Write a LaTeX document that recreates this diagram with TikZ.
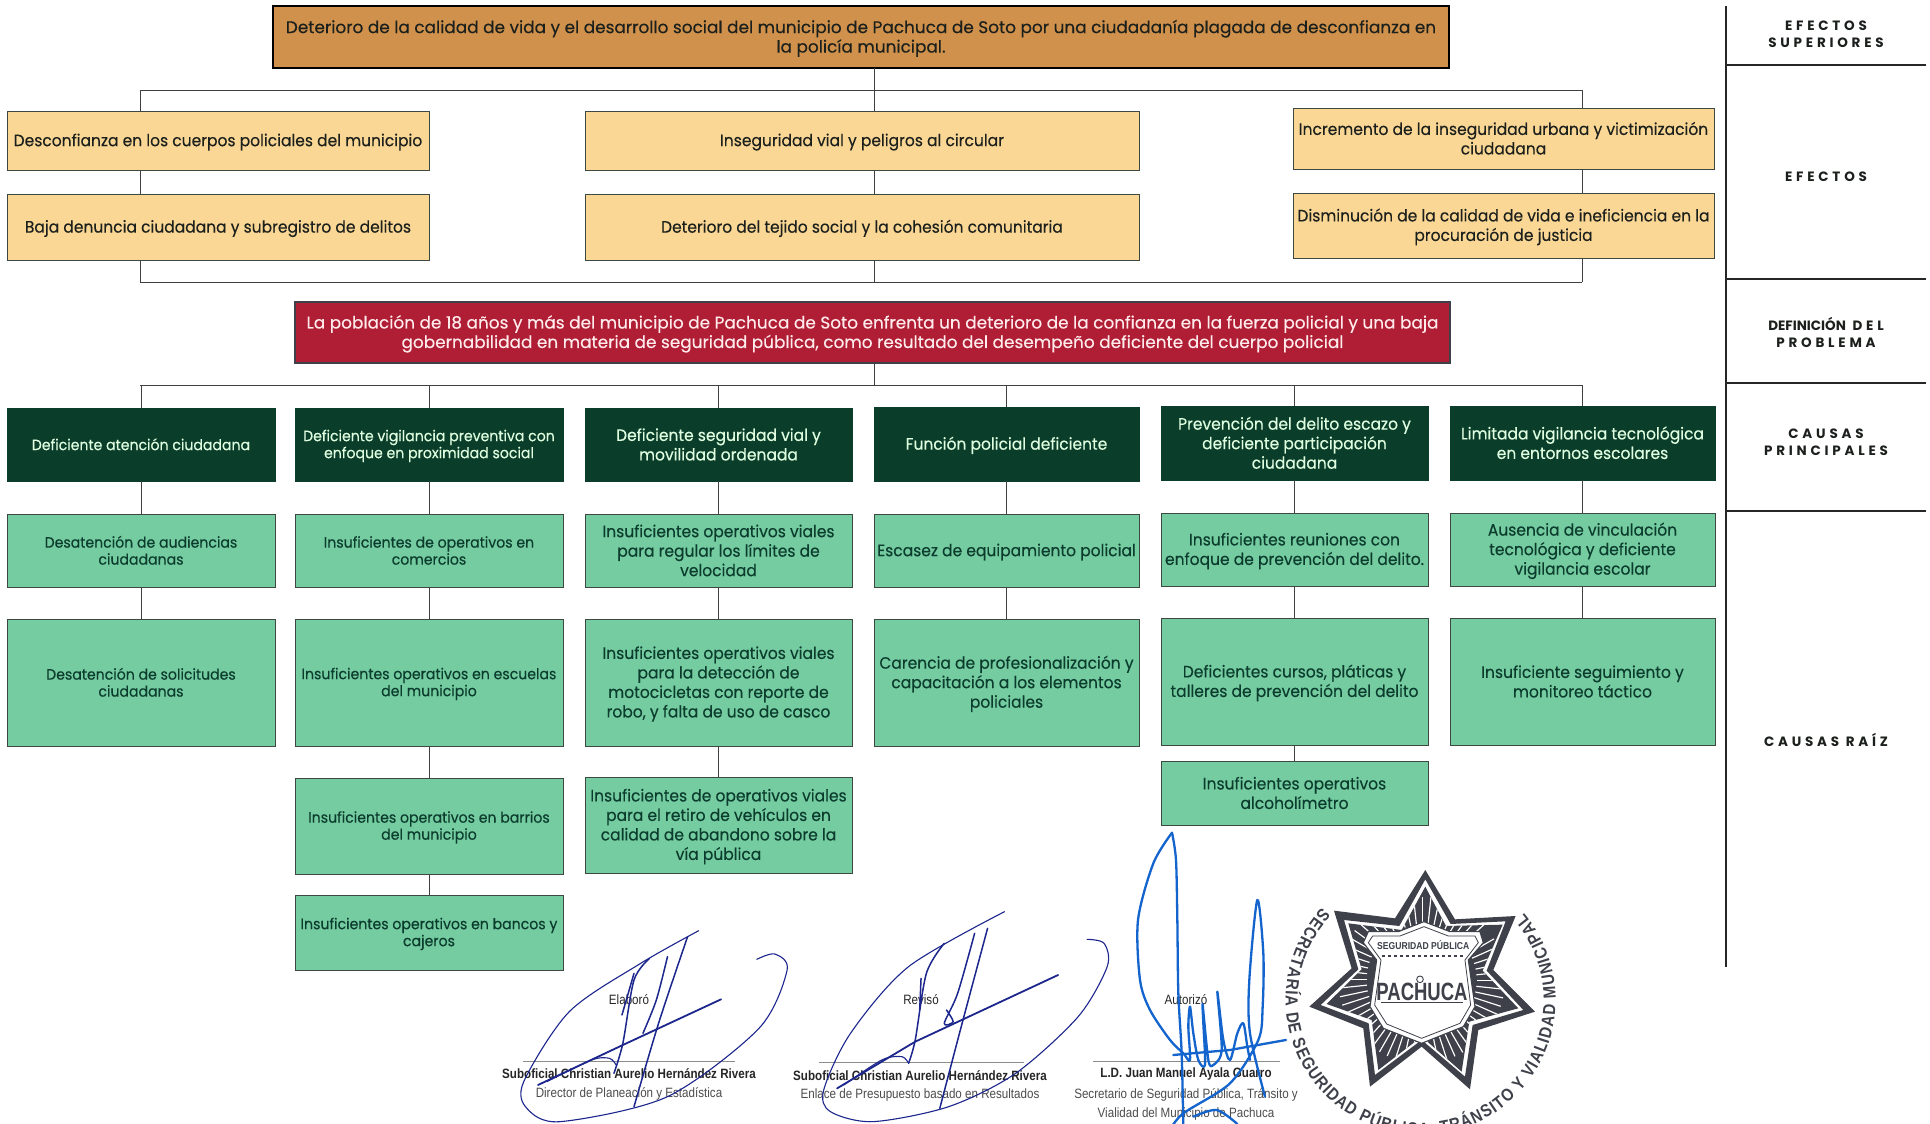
\documentclass[tikz,border=0pt]{standalone}
\usepackage{fontspec}
\usetikzlibrary{decorations.text}
\setmainfont[FakeBold=0.25]{Poppins}
\newfontfamily\boxfont[FakeStretch=0.94,FakeBold=0.25]{Poppins}
\newfontfamily\labfont[LetterSpace=28]{Poppins}
\newfontfamily\labtight{Poppins}
\newfontfamily\sigfont[FakeStretch=0.86]{Liberation Sans}
\newfontfamily\crestfont[FakeStretch=0.74]{Liberation Sans}
\definecolor{cOrange}{RGB}{207,145,76}
\definecolor{cPeach}{RGB}{251,215,150}
\definecolor{cRed}{RGB}{176,30,54}
\definecolor{cDark}{RGB}{10,62,42}
\definecolor{cMint}{RGB}{116,204,160}
\definecolor{cEdge}{RGB}{60,72,64}
\definecolor{cInk}{RGB}{28,32,28}
\definecolor{cMintInk}{RGB}{12,60,45}
\definecolor{cNavy}{RGB}{28,38,140}
\definecolor{cBlue}{RGB}{20,100,205}
\definecolor{cStamp}{RGB}{62,64,74}
\newcommand{\bx}[7]{\pgfmathsetmacro\myx{(#3+#5)/2}\pgfmathsetmacro\myy{(#4+#6)/2}\pgfmathsetmacro\myw{#5-#3}\pgfmathsetmacro\myh{#6-#4}\node[#2,minimum width=\myw pt,minimum height=\myh pt] (#1) at (\myx,\myy) {\rule{0pt}{0.95em}#7\rule[-0.2em]{0pt}{0.2em}};}
\tikzset{
 basebox/.style={draw=cEdge,line width=1pt,inner sep=0pt,outer sep=0pt,align=center,text=cInk,font=\fontsize{16.5}{19.5}\selectfont\boxfont},
 smalltext/.style={font=\fontsize{15}{17}\selectfont\boxfont},
 topbox/.style={basebox,fill=cOrange,draw=black,line width=1.6pt,font=\fontsize{16.9}{19.5}\selectfont\rmfamily},
 effbox/.style={basebox,fill=cPeach},
 redbox/.style={basebox,fill=cRed,text=white!92!red,draw=cStamp,line width=1.4pt,font=\fontsize{16.9}{19.5}\selectfont\rmfamily},
 darkbox/.style={basebox,fill=cDark,text=white!88!green,draw=cDark},
 mintbox/.style={basebox,fill=cMint,text=cMintInk},
 conn/.style={draw=cInk!85,line width=1pt},
 panelline/.style={draw=black!85,line width=1.6pt},
 lab/.style={inner sep=0pt,align=center,text=cInk,font=\fontsize{13.5}{17}\selectfont\labfont\bfseries},
 sigline/.style={draw=black!45,line width=1pt},
 signame/.style={inner sep=0pt,align=center,text=black!85,font=\fontsize{13.5}{16}\selectfont\sigfont\bfseries},
 sigrole/.style={inner sep=0pt,align=center,text=black!70,font=\fontsize{13.5}{19}\selectfont\sigfont},
 navypen/.style={draw=cNavy,line width=1.1pt,line cap=round,line join=round},
 bluepen/.style={draw=cBlue,line width=2.3pt,line cap=round,line join=round},
}
\begin{document}
\begin{tikzpicture}[x=1pt,y=-1pt]
\useasboundingbox (0,0) rectangle (1930,1124);
\fill[white] (0,0) rectangle (1930,1124);

% boxes
\bx{top}{topbox}{273}{6}{1449}{68}{Deterioro de la calidad de vida y el desarrollo social del municipio de Pachuca de Soto por una ciudadanía plagada de desconfianza en\\la policía municipal.}
\bx{ea}{effbox}{7}{111}{429}{170}{Desconfianza en los cuerpos policiales del municipio}
\bx{eb}{effbox}{7}{194}{429}{260}{Baja denuncia ciudadana y subregistro de delitos}
\bx{fa}{effbox}{585}{111}{1139}{170}{Inseguridad vial y peligros al circular}
\bx{fb}{effbox}{585}{194}{1139}{260}{Deterioro del tejido social y la cohesión comunitaria}
\bx{ga}{effbox}{1293}{108}{1714}{169}{Incremento de la inseguridad urbana y victimización\\ciudadana}
\bx{gb}{effbox}{1293}{193}{1714}{258}{Disminución de la calidad de vida e ineficiencia en la\\procuración de justicia}
\bx{prob}{redbox}{295}{302}{1450}{363}{La población de 18 años y más del municipio de Pachuca de Soto enfrenta un deterioro de la confianza en la fuerza policial y una baja\\gobernabilidad en materia de seguridad pública, como resultado del desempeño deficiente del cuerpo policial}

\bx{m1}{darkbox,smalltext}{7}{408}{275}{481}{Deficiente atención ciudadana}
\bx{m2}{darkbox,smalltext}{295}{408}{563}{481}{Deficiente vigilancia preventiva con\\enfoque en proximidad social}
\bx{m3}{darkbox}{585}{408}{852}{481}{Deficiente seguridad vial y\\movilidad ordenada}
\bx{m4}{darkbox}{874}{407}{1139}{481}{Función policial deficiente}
\bx{m5}{darkbox}{1161}{406}{1428}{480}{Prevención del delito escazo y\\deficiente participación\\ciudadana}
\bx{m6}{darkbox}{1450}{406}{1715}{480}{Limitada vigilancia tecnológica\\en entornos escolares}

\bx{a1}{mintbox,smalltext}{7}{514}{275}{587}{Desatención de audiencias\\ciudadanas}
\bx{a2}{mintbox,smalltext}{295}{514}{563}{587}{Insuficientes de operativos en\\comercios}
\bx{a3}{mintbox}{585}{514}{852}{587}{Insuficientes operativos viales\\para regular los límites de\\velocidad}
\bx{a4}{mintbox}{874}{514}{1139}{587}{Escasez de equipamiento policial}
\bx{a5}{mintbox}{1161}{513}{1428}{586}{Insuficientes reuniones con\\enfoque de prevención del delito.}
\bx{a6}{mintbox}{1450}{513}{1715}{586}{Ausencia de vinculación\\tecnológica y deficiente\\vigilancia escolar}

\bx{b1}{mintbox,smalltext}{7}{619}{275}{746}{Desatención de solicitudes\\ciudadanas}
\bx{b2}{mintbox,smalltext}{295}{619}{563}{746}{Insuficientes operativos en escuelas\\del municipio}
\bx{b3}{mintbox}{585}{619}{852}{746}{Insuficientes operativos viales\\para la detección de\\motocicletas con reporte de\\robo, y falta de uso de casco}
\bx{b4}{mintbox}{874}{619}{1139}{746}{Carencia de profesionalización y\\capacitación a los elementos\\policiales}
\bx{b5}{mintbox}{1161}{618}{1428}{745}{Deficientes cursos, pláticas y\\talleres de prevención del delito}
\bx{b6}{mintbox}{1450}{618}{1715}{745}{Insuficiente seguimiento y\\monitoreo táctico}

\bx{c2}{mintbox,smalltext}{295}{778}{563}{874}{Insuficientes operativos en barrios\\del municipio}
\bx{c3}{mintbox}{585}{777}{852}{873}{Insuficientes de operativos viales\\para el retiro de vehículos en\\calidad de abandono sobre la\\vía pública}
\bx{c5}{mintbox}{1161}{761}{1428}{825}{Insuficientes operativos\\alcoholímetro}
\bx{d2}{mintbox,smalltext}{295}{895}{563}{970}{Insuficientes operativos en bancos y\\cajeros}

% junctions
\coordinate (jt) at (874,90);
\coordinate (jl) at (140,90);
\coordinate (jr) at (1582,90);
\coordinate (kt) at (874,282);
\coordinate (kl) at (140,282);
\coordinate (kr) at (1582,282);
\coordinate (lt) at (874,385);
\coordinate (ll) at (140,385);
\coordinate (lr) at (1582,385);

\draw[conn] (top.south -| jt) -- (jt);
\draw[conn] (jl) -- (jr);
\draw[conn] (jl) -- (ea.north -| jl);
\draw[conn] (jt) -- (fa.north -| jt);
\draw[conn] (jr) -- (ga.north -| jr);
\draw[conn] (ea.south -| jl) -- (eb.north -| jl);
\draw[conn] (fa.south -| jt) -- (fb.north -| jt);
\draw[conn] (ga.south -| jr) -- (gb.north -| jr);
\draw[conn] (eb.south -| kl) -- (kl);
\draw[conn] (fb.south -| kt) -- (kt);
\draw[conn] (gb.south -| kr) -- (kr);
\draw[conn] (kl) -- (kr);
\draw[conn] (prob.south -| lt) -- (lt);
\draw[conn] (ll) -- (lr);
\foreach \c in {m1,m2,m3,m4,m5,m6}{\draw[conn] (\c.north) -- (\c.north |- ll);}
\foreach \p/\q in {m1/a1,a1/b1,m2/a2,a2/b2,b2/c2,c2/d2,m3/a3,a3/b3,b3/c3,m4/a4,a4/b4,m5/a5,a5/b5,b5/c5,m6/a6,a6/b6}{\draw[conn] (\p.south) -- (\q.north);}

% right panel
\coordinate (pt) at (1726,6);
\coordinate (pb) at (1726,967);
\coordinate (h1) at (1726,65);
\coordinate (h2) at (1726,279);
\coordinate (h3) at (1726,383);
\coordinate (h4) at (1726,511);
\draw[panelline] (pt) -- (pb);
\foreach \h in {h1,h2,h3,h4}{\draw[panelline] (\h) -- ++(200,0);}
\node[lab] (l1) at (1826,34) {EFECTOS\\SUPERIORES};
\node[lab] (l2) at (1826,177) {EFECTOS};
\node[lab] (l3) at (1826,332) {{\labtight DEFINICIÓN} DEL\\PROBLEMA};
\node[lab] (l4) at (1826,442) {CAUSAS\\PRINCIPALES};
\node[lab] (l5) at (1826,740) {CAUSAS RAÍZ};

% signature blocks
\coordinate (s1) at (523,1061);
\coordinate (s1e) at (735,1061);
\coordinate (s2) at (819,1062);
\coordinate (s2e) at (1024,1062);
\coordinate (s3) at (1093,1061);
\coordinate (s3e) at (1280,1061);
\draw[sigline] (s1) -- (s1e);
\draw[sigline] (s2) -- (s2e);
\draw[sigline] (s3) -- (s3e);
\node[sigrole,text=black!85] (e1) at (629,1000) {Elaboró};
\node[sigrole,text=black!85] (e2) at (921,1000) {Revisó};
\node[sigrole,text=black!85] (e3) at (1186,1000) {Autorizó};
\node[signame] (n1) at (629,1074) {Suboficial Christian Aurelio Hernández Rivera};
\node[signame] (n2) at (920,1076) {Suboficial Christian Aurelio Hernández Rivera};
\node[signame] (n3) at (1186,1074) {L.D. Juan Manuel Ayala Guarro};
\node[sigrole] (r1) at (629,1094) {Director de Planeación y Estadística};
\node[sigrole] (r2) at (920,1095) {Enlace de Presupuesto basado en Resultados};
\node[sigrole] (r3) at (1186,1104) {Secretario de Seguridad Pública, Tránsito y\\Vialidad del Municipio de Pachuca};

% navy signatures
\begin{scope}[shift={(480,900)},x=0.4464pt,y=-0.3333pt]
\draw[navypen] plot[smooth] coordinates {(620,178)(660,162)(688,210)(625,385)(420,590)(180,665)(105,625)(98,545)(200,335)(360,190)(490,92)};
\draw[navypen,line width=1.8pt] (130,555) -- (320,435) -- (540,298);
\draw[navypen,line width=1.5pt] plot[smooth] coordinates {(345,620)(400,370)(465,110)};
\draw[navypen,line width=1.5pt] plot[smooth] coordinates {(380,175)(345,240)(320,430)(300,520)};
\draw[navypen,line width=1.5pt] plot[smooth] coordinates {(420,170)(395,300)(365,400)};
\draw[navypen,line width=1.5pt] (345,220) -- (318,345);
\draw[navypen] plot[smooth] coordinates {(150,545)(250,480)(290,475)(305,495)};
\draw[navypen] plot[smooth] coordinates {(1360,118)(1398,130)(1405,200)(1340,350)(1200,520)(1050,620)(880,665)(785,635)(770,570)(830,400)(960,200)(1175,35)};
\draw[navypen,line width=1.8pt] (800,565) -- (975,425) -- (1295,225);
\draw[navypen,line width=1.5pt] plot[smooth] coordinates {(1030,625)(1080,370)(1137,85)};
\draw[navypen,line width=1.5pt] plot[smooth] coordinates {(1040,130)(1000,220)(975,420)(960,490)};
\draw[navypen,line width=1.5pt] plot[smooth] coordinates {(1108,100)(1070,280)(1040,370)(1060,365)(1045,330)};
\draw[navypen,line width=1.5pt] (988,235) -- (985,330);
\draw[navypen] plot[smooth] coordinates {(815,555)(900,480)(945,470)(960,490)};
\end{scope}

% stamp and blue signature
\begin{scope}[shift={(1150,820)},x=0.3333pt,y=-0.3333pt]
\draw[bluepen] plot[smooth] coordinates {(66,38)(10,130)(-36,300)(-30,480)(0,570)(60,660)(100,700)(120,720)(115,620)(120,560)(130,640)(145,720)(165,735)(160,610)(158,555)(175,720)(190,735)(215,690)(202,515)(220,660)(240,720)(262,640)(280,610)(292,680)(300,720)};
\draw[bluepen] plot[smooth] coordinates {(66,38)(78,120)(82,300)(85,520)(95,700)(100,920)};
\draw[bluepen] plot[smooth] coordinates {(345,830)(300,640)(298,480)(322,240)(340,400)(338,560)(325,660)(240,790)(100,880)(60,930)};
\draw[bluepen] (70,705) -- (240,690) -- (408,660);
\draw[bluepen] plot[smooth] coordinates {(130,890)(200,870)(262,912)};

\begin{scope}[even odd rule]
\fill[cStamp] (826,150)--(915,298)--(1097,288)--(1030,450)--(1155,575)--(985,630)--(960,808)--(815,680)--(660,800)--(640,625)--(478,560)--(605,445)--(552,272)--(735,295)--cycle
 (826,178)--(902,312)--(1067,304)--(1010,452)--(1120,570)--(968,615)--(945,770)--(815,660)--(675,765)--(656,610)--(512,555)--(625,448)--(582,300)--(748,318)--cycle;
\fill[cStamp] (826,200)--(888,318)--(1058,314)--(998,452)--(1105,565)--(958,605)--(935,755)--(815,650)--(685,750)--(665,600)--(530,552)--(635,448)--(595,310)--(755,330)--cycle;
\end{scope}
\begin{scope}
\clip (826,200)--(888,318)--(1058,314)--(998,452)--(1105,565)--(958,605)--(935,755)--(815,650)--(685,750)--(665,600)--(530,552)--(635,448)--(595,310)--(755,330)--cycle;
\foreach \a in {-30,-24,...,320}{\fill[white] (815,480) ++(\a:165) -- ++(\a+90:3.5) -- ++(\a:85) -- ++(\a-90:3.5)-- cycle;}
\end{scope}
\path[fill=white,draw=cStamp,line width=1.1pt] (822,305)--(900,335)--(990,335)--(1000,368)--(955,420)--(975,560)--(940,620)--(815,670)--(700,625)--(660,560)--(680,420)--(640,368)--(655,335)--(745,335)--cycle;
\draw[cStamp,line width=0.8pt] (822,320)--(895,348)--(975,348)--(985,368)--(945,420)--(962,555)--(930,610)--(815,655)--(710,612)--(674,555)--(693,420)--(655,368)--(668,348)--(750,348)--cycle;
\draw[cStamp,line width=1.2pt,dashed] (695,408) -- (945,408);
\node[inner sep=0pt,text=cStamp,font=\fontsize{10}{10}\selectfont\sigfont\bfseries] (sp) at (820,374) {SEGURIDAD PÚBLICA};
\node[inner sep=0pt,text=cStamp,font=\fontsize{25}{25}\selectfont\crestfont\bfseries] (pa) at (816,517) {PACHUCA};
\draw[cStamp,line width=1.4pt] (692,548) -- (940,548);
\draw[cStamp,line width=0.9pt] (810,478) circle[radius=10];
\path[decorate,decoration={text along path,text align=fit to path,
 text={|\fontsize{17.5}{17.5}\selectfont\sigfont\bfseries\color{cStamp}|SECRETARÍA DE SEGURIDAD PÚBLICA, TRÁNSITO Y VIALIDAD MUNICIPAL}}]
 (812,540) ++(-137:405) arc[start angle=-137,end angle=-400,radius=405];
\end{scope}
\end{tikzpicture}
\end{document}
